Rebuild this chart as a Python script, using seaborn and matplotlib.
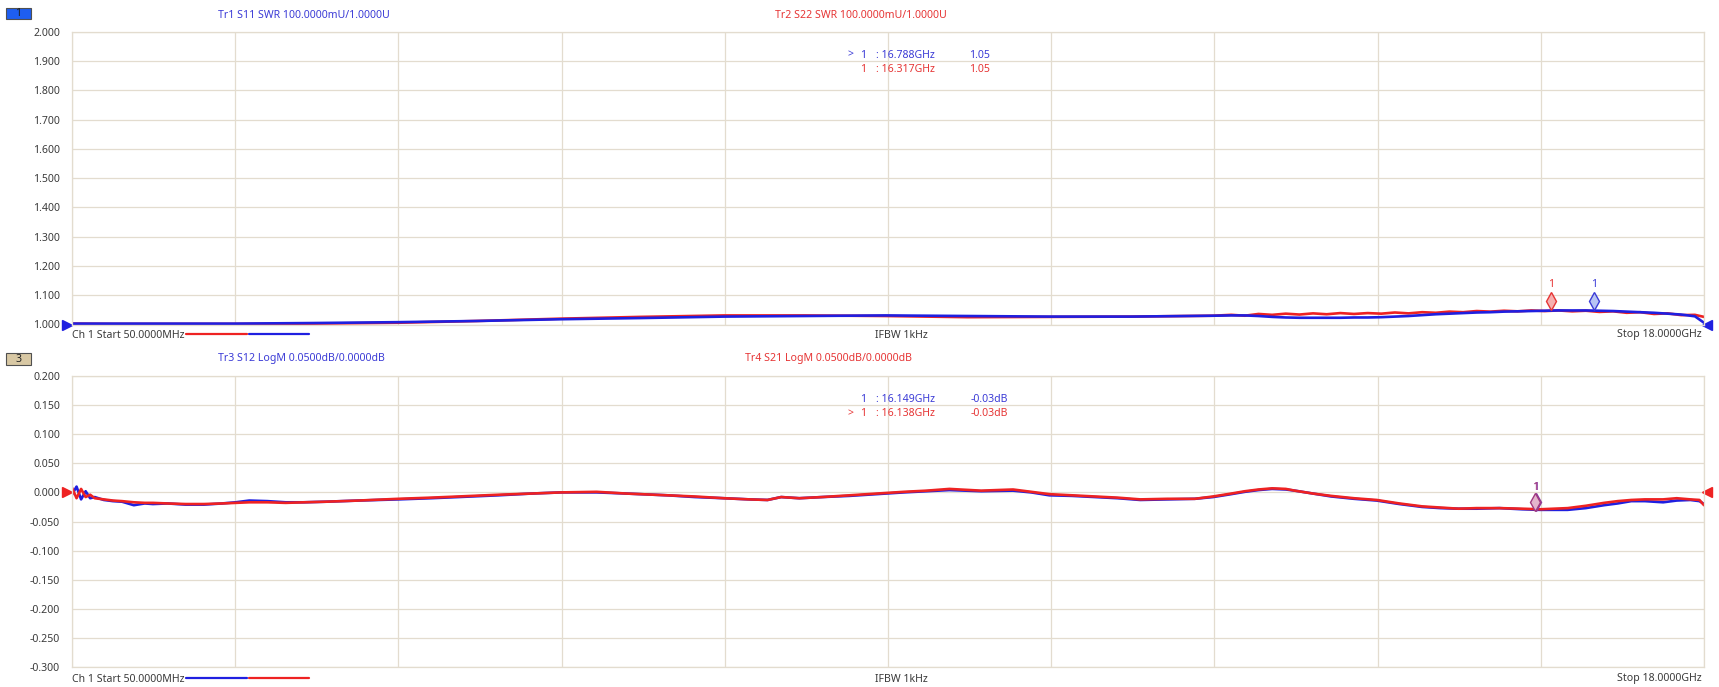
import matplotlib
matplotlib.use("Agg")
import matplotlib.pyplot as plt
import matplotlib.transforms as mtransforms
from matplotlib.patches import Rectangle
from matplotlib.lines import Line2D
import seaborn as sns

# ---- data ----
# top panel: SWR traces (frequency in GHz)
f_swr = [0.05, 0.5, 1.0, 1.85, 2.7, 3.64, 4.5, 5.43, 6.3, 7.22, 8.1, 9.0, 9.9, 10.8,
         11.7, 12.6, 12.8, 12.95, 13.1, 13.25, 13.4, 13.55, 13.7, 13.85, 14.0, 14.15,
         14.3, 14.45, 14.6, 14.75, 14.9, 15.05, 15.2, 15.35, 15.5, 15.65, 15.8, 15.95,
         16.1, 16.25, 16.4, 16.55, 16.7, 16.85, 17.0, 17.15, 17.3, 17.45, 17.6, 17.75,
         17.9, 18.0]
s11_swr = [1.003, 1.003, 1.003, 1.003, 1.005, 1.008, 1.012, 1.018, 1.022, 1.027, 1.029,
           1.031, 1.029, 1.027, 1.027, 1.030, 1.031, 1.031, 1.029, 1.026, 1.024, 1.023,
           1.023, 1.023, 1.023, 1.024, 1.024, 1.025, 1.027, 1.029, 1.032, 1.035, 1.037,
           1.039, 1.041, 1.042, 1.044, 1.045, 1.046, 1.047, 1.048, 1.048, 1.048, 1.047,
           1.046, 1.044, 1.042, 1.040, 1.037, 1.034, 1.028, 1.006]
s22_swr = [1.003, 1.002, 1.002, 1.002, 1.003, 1.006, 1.012, 1.020, 1.026, 1.031, 1.031,
           1.029, 1.025, 1.026, 1.027, 1.030, 1.033, 1.030, 1.036, 1.033, 1.037, 1.034,
           1.038, 1.035, 1.039, 1.036, 1.039, 1.037, 1.041, 1.038, 1.042, 1.040, 1.044,
           1.042, 1.046, 1.044, 1.047, 1.045, 1.048, 1.046, 1.048, 1.045, 1.047, 1.043,
           1.045, 1.040, 1.042, 1.036, 1.038, 1.032, 1.033, 1.026]

# bottom panel: LogM traces (dB)
f_logm = [0.05, 0.1, 0.15, 0.2, 0.25, 0.3, 0.4, 0.5, 0.6, 0.73, 0.85, 0.94, 1.1, 1.3,
          1.5, 1.7, 1.85, 2.0, 2.2, 2.4, 2.6, 2.84, 3.2, 3.64, 4.0, 4.3, 4.74, 5.1, 5.43,
          5.82, 6.15, 6.6, 6.9, 7.22, 7.5, 7.7, 7.85, 8.05, 8.3, 8.6, 9.0, 9.2, 9.45, 9.7,
          10.05, 10.4, 10.6, 10.8, 11.05, 11.3, 11.55, 11.8, 12.1, 12.4, 12.6, 12.8,
          12.95, 13.1, 13.25, 13.4, 13.5, 13.7, 13.9, 14.15, 14.4, 14.65, 14.9, 15.1,
          15.3, 15.5, 15.75, 16.0, 16.2, 16.5, 16.7, 16.9, 17.05, 17.2, 17.35, 17.55,
          17.7, 17.85, 17.95, 18.0]
s21_db = [0.008, -0.010, 0.006, -0.008, -0.004, -0.010, -0.012, -0.014, -0.015, -0.017,
          -0.018, -0.018, -0.019, -0.020, -0.020, -0.019, -0.018, -0.017, -0.017, -0.018,
          -0.017, -0.016, -0.014, -0.011, -0.009, -0.007, -0.004, -0.002, 0.000, 0.001,
          -0.002, -0.005, -0.007, -0.010, -0.012, -0.013, -0.008, -0.010, -0.008, -0.005,
          -0.001, 0.001, 0.003, 0.006, 0.003, 0.005, 0.001, -0.003, -0.005, -0.007, -0.009,
          -0.012, -0.011, -0.011, -0.007, -0.002, 0.002, 0.005, 0.007, 0.006, 0.003,
          -0.002, -0.006, -0.010, -0.013, -0.019, -0.024, -0.026, -0.028, -0.027, -0.027,
          -0.028, -0.029, -0.027, -0.023, -0.018, -0.015, -0.013, -0.012, -0.012, -0.010,
          -0.012, -0.013, -0.022]
s12_db = [-0.004, 0.010, -0.012, 0.002, -0.010, -0.008, -0.013, -0.015, -0.016, -0.022,
          -0.019, -0.020, -0.019, -0.021, -0.021, -0.019, -0.017, -0.014, -0.015, -0.017,
          -0.017, -0.016, -0.014, -0.012, -0.010, -0.008, -0.005, -0.002, 0.000, 0.000,
          -0.002, -0.005, -0.008, -0.010, -0.012, -0.013, -0.008, -0.010, -0.008, -0.006,
          -0.002, 0.000, 0.002, 0.004, 0.002, 0.003, 0.000, -0.005, -0.006, -0.008, -0.010,
          -0.013, -0.012, -0.011, -0.008, -0.003, 0.001, 0.004, 0.006, 0.005, 0.003,
          -0.002, -0.007, -0.011, -0.014, -0.020, -0.025, -0.027, -0.028, -0.028, -0.027,
          -0.029, -0.030, -0.030, -0.027, -0.022, -0.019, -0.015, -0.015, -0.017, -0.014,
          -0.013, -0.015, -0.020]

swr_ticks = [2.0, 1.9, 1.8, 1.7, 1.6, 1.5, 1.4, 1.3, 1.2, 1.1, 1.0]
db_ticks = [0.2, 0.15, 0.1, 0.05, 0.0, -0.05, -0.1, -0.15, -0.2, -0.25, -0.3]

# markers: (freq GHz, value)
swr_marker_s11 = (16.788, 1.048)
swr_marker_s22 = (16.317, 1.048)
db_marker_s12 = (16.149, -0.029)
db_marker_s21 = (16.138, -0.029)

f_start, f_stop = 0.05, 18.0

# ---- style ----
sns.set_style("white")
plt.rcParams['font.family'] = ['Noto Sans', 'DejaVu Sans']

BLUE = '#1f1fe0'
RED = '#ee2222'
BLUE_TXT = '#3b3bd6'
RED_TXT = '#e63535'
GRID = '#e3dccf'
TXT = '#3a3a3a'
FS = 7.6
LW = 1.9

W, H = 1719, 687
fig = plt.figure(figsize=(W / 100, H / 100), dpi=100)
fig.patch.set_facecolor('white')


def fx(px):
    return px / W


def fy(py):
    return 1 - py / H


ax1 = fig.add_axes([fx(72), fy(324.5), fx(1704) - fx(72), (324.5 - 31.8) / H])
ax2 = fig.add_axes([fx(72), fy(667), fx(1704) - fx(72), (667 - 376) / H])

xgrid = [f_start + k * (f_stop - f_start) / 10 for k in range(11)]


def style_axes(ax, ticks, fmt):
    ax.set_xlim(f_start, f_stop)
    ax.set_ylim(min(ticks), max(ticks))
    ax.set_yticks(ticks)
    ax.set_yticklabels([fmt.format(t) for t in ticks], fontsize=FS, color=TXT)
    ax.set_xticks(xgrid)
    ax.set_xticklabels([])
    ax.tick_params(length=0, pad=8.5)
    ax.grid(True, color=GRID, linewidth=0.9)
    for s in ax.spines.values():
        s.set_color(GRID)
        s.set_linewidth(0.9)
    ax.set_xlabel('')
    ax.set_ylabel('')


# top panel
sns.lineplot(x=f_swr, y=s22_swr, ax=ax1, color=RED, linewidth=LW)
sns.lineplot(x=f_swr, y=s11_swr, ax=ax1, color=BLUE, linewidth=LW)
style_axes(ax1, swr_ticks, '{:.3f}')

# bottom panel
sns.lineplot(x=f_logm, y=s12_db, ax=ax2, color=BLUE, linewidth=LW)
sns.lineplot(x=f_logm, y=s21_db, ax=ax2, color=RED, linewidth=LW)
style_axes(ax2, db_ticks, '{:.3f}')

# reference-level triangles
for ax, yref, col in [(ax1, 1.0, BLUE), (ax2, 0.0, RED)]:
    tr = mtransforms.blended_transform_factory(ax.transAxes, ax.transData)
    ax.plot([-0.003], [yref], marker='>', color=col, markersize=7, transform=tr, clip_on=False)
    ax.plot([1.002], [yref], marker='<', color=col, markersize=7, transform=tr, clip_on=False)


def draw_marker(ax, pos, col, face, lift_px, label_px):
    off = mtransforms.offset_copy(ax.transData, fig=fig, x=0, y=lift_px, units='dots')
    ax.plot([pos[0]], [pos[1]], marker='d', markersize=9, mfc=face, mec=col, mew=1.0,
            transform=off, clip_on=False, zorder=5)
    ax.annotate('1', xy=pos, xytext=(0, label_px), textcoords='offset pixels',
                ha='center', va='center', fontsize=FS, color=col)


draw_marker(ax1, swr_marker_s22, RED_TXT, '#f6b0b0', 9, 26)
draw_marker(ax1, swr_marker_s11, BLUE_TXT, '#b8c4f4', 9, 26)
draw_marker(ax2, db_marker_s12, '#8a3aa0', '#d8b0d8', 7, 22)
draw_marker(ax2, db_marker_s21, '#a03a80', '#e4b4cc', 7, 22)


def t(px, py, s, col=TXT, ha='left'):
    fig.text(fx(px), fy(py), s, fontsize=FS, color=col, ha=ha, va='center')


# channel boxes
for y0, y1, face, lab in [(8, 19, '#1e5ef0', '1'), (353, 365, '#d8c8a4', '3')]:
    fig.patches.append(Rectangle((fx(6), fy(y1)), fx(31) - fx(6), (y1 - y0) / H,
                                 transform=fig.transFigure, facecolor=face,
                                 edgecolor='#505050', linewidth=0.8))
    t(18.5, (y0 + y1) / 2, lab, col='#202020', ha='center')

# trace titles
t(218, 15, 'Tr1 S11 SWR 100.0000mU/1.0000U', BLUE_TXT)
t(775, 15, 'Tr2 S22 SWR 100.0000mU/1.0000U', RED_TXT)
t(218, 359, 'Tr3 S12 LogM 0.0500dB/0.0000dB', BLUE_TXT)
t(745, 359, 'Tr4 S21 LogM 0.0500dB/0.0000dB', RED_TXT)

# marker readouts
t(847, 55, '>', BLUE_TXT)
t(860, 55, '1', BLUE_TXT)
t(876, 55, ': 16.788GHz', BLUE_TXT)
t(969, 55, '1.05', BLUE_TXT)
t(860, 70, '1', RED_TXT)
t(876, 70, ': 16.317GHz', RED_TXT)
t(969, 70, '1.05', RED_TXT)

t(860, 400, '1', BLUE_TXT)
t(876, 400, ': 16.149GHz', BLUE_TXT)
t(971, 400, '-0.03dB', BLUE_TXT)
t(847, 414, '>', RED_TXT)
t(860, 414, '1', RED_TXT)
t(876, 414, ': 16.138GHz', RED_TXT)
t(971, 414, '-0.03dB', RED_TXT)

# footer lines
for yy, c1, c2 in [(335, RED, BLUE), (679, BLUE, RED)]:
    t(72, yy, 'Ch 1 Start 50.0000MHz')
    t(901, yy, 'IFBW 1kHz', ha='center')
    t(1702, yy, 'Stop 18.0000GHz', ha='right')
    fig.lines.append(Line2D([fx(186), fx(247)], [fy(yy - 1)] * 2, color=c1, linewidth=1.6,
                            transform=fig.transFigure))
    fig.lines.append(Line2D([fx(249), fx(309)], [fy(yy - 1)] * 2, color=c2, linewidth=1.6,
                            transform=fig.transFigure))

fig.savefig('out.png', dpi=100, facecolor='white')
